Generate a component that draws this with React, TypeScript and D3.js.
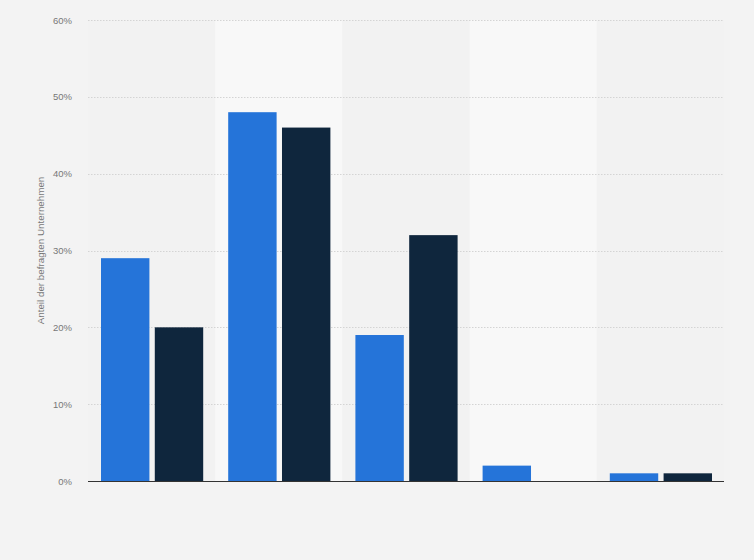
import React, { useRef, useEffect } from "react";
import * as d3 from "d3";

const categories = ["A", "B", "C", "D", "E"];
const seriesBlue = [29, 48, 19, 2, 1];
const seriesNavy = [20, 46, 32, 0, 1];
const yTicks = [0, 10, 20, 30, 40, 50, 60];

const WIDTH = 754;
const HEIGHT = 560;

export default function App() {
  const ref = useRef<SVGSVGElement | null>(null);

  useEffect(() => {
    document.body.style.margin = "0";
    const margin = { top: 20, right: 30, bottom: 79, left: 88 };
    const w = WIDTH - margin.left - margin.right;
    const h = HEIGHT - margin.top - margin.bottom;

    const root = d3.select(ref.current);
    root.selectAll("*").remove();

    root
      .append("rect")
      .attr("width", WIDTH)
      .attr("height", HEIGHT)
      .attr("fill", "#f3f3f3");

    const svg = root
      .append("g")
      .attr("transform", `translate(${margin.left},${margin.top})`);

    const x = d3.scaleBand().domain(categories).range([0, w]);
    const y = d3.scaleLinear().domain([0, 60]).range([h, 0]);

    // alternating column bands
    svg
      .selectAll(".band")
      .data(categories)
      .enter()
      .append("rect")
      .attr("x", (d) => x(d)!)
      .attr("y", 0)
      .attr("width", x.bandwidth())
      .attr("height", h)
      .attr("fill", (_, i) => (i % 2 === 1 ? "#f8f8f8" : "#f2f2f2"));

    // grid lines
    svg
      .selectAll(".grid")
      .data(yTicks.filter((t) => t > 0))
      .enter()
      .append("line")
      .attr("x1", 0)
      .attr("x2", w)
      .attr("y1", (d) => Math.round(y(d)) + 0.5)
      .attr("y2", (d) => Math.round(y(d)) + 0.5)
      .attr("stroke", "#d4d4d4")
      .attr("stroke-width", 1)
      .attr("stroke-dasharray", "1.5,1.5");

    // tick labels
    svg
      .selectAll(".tick-label")
      .data(yTicks)
      .enter()
      .append("text")
      .attr("x", -16)
      .attr("y", (d) => y(d) + 3.5)
      .attr("text-anchor", "end")
      .attr("fill", "#777")
      .style("font-family", "Arial, 'Liberation Sans', sans-serif")
      .style("font-size", "9.5px")
      .text((d) => `${d}%`);

    // bars
    const inner = d3
      .scaleBand()
      .domain(["blue", "navy"])
      .range([13, x.bandwidth() - 12])
      .paddingInner(0.1);

    const series = [
      { key: "blue", values: seriesBlue, color: "#2574d9" },
      { key: "navy", values: seriesNavy, color: "#0f263d" },
    ];

    series.forEach((s) => {
      svg
        .append("g")
        .selectAll("rect")
        .data(categories.map((c, i) => ({ c, v: s.values[i] })))
        .enter()
        .filter((d) => d.v > 0)
        .append("rect")
        .attr("x", (d) => x(d.c)! + inner(s.key)!)
        .attr("y", (d) => y(d.v))
        .attr("width", inner.bandwidth())
        .attr("height", (d) => h - y(d.v))
        .attr("fill", s.color);
    });

    // baseline
    svg
      .append("line")
      .attr("x1", 0)
      .attr("x2", w)
      .attr("y1", h + 0.5)
      .attr("y2", h + 0.5)
      .attr("stroke", "#333")
      .attr("stroke-width", 1);

    // axis title
    svg
      .append("text")
      .attr("transform", "rotate(-90)")
      .attr("x", -h / 2)
      .attr("y", -margin.left + 44)
      .attr("text-anchor", "middle")
      .attr("fill", "#777")
      .style("font-family", "Arial, 'Liberation Sans', sans-serif")
      .style("font-size", "9.8px")
      .text("Anteil der befragten Unternehmen");
  }, []);

  return <svg ref={ref} width={WIDTH} height={HEIGHT} style={{ display: "block" }} />;
}
